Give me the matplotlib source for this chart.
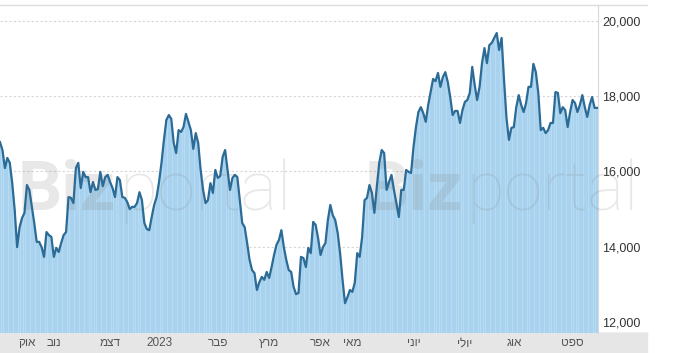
import matplotlib
matplotlib.use("Agg")
import matplotlib.pyplot as plt
from matplotlib.lines import Line2D
from matplotlib.patches import Rectangle

# daily index level, Oct 2022 -> Sep 2023
values = [
    16780, 16570, 16090, 16360, 16230, 15690, 14980, 13990, 14520, 14760,
    14900, 15640, 15510, 15060, 14630, 14130, 14130, 13990, 13730, 14390,
    14310, 14260, 13730, 13970, 13860, 14100, 14310, 14390, 15320, 15300,
    15160, 16090, 16230, 15560, 15990, 15850, 15850, 15450, 15720, 15510,
    15530, 15990, 15610, 15850, 15910, 15720, 15560, 15320, 15850, 15770,
    15320, 15300, 15190, 15000, 15060, 15060, 15160, 15450, 15240, 14630,
    14470, 14440, 14790, 15110, 15320, 15720, 16230, 16840, 17370, 17500,
    17400, 16760, 16490, 17100, 17050, 17180, 17530, 17320, 17100, 16600,
    17020, 16760, 16040, 15510, 15160, 15240, 15690, 15430, 16040, 15830,
    15880, 16390, 16570, 16040, 15510, 15830, 15910, 15850, 15240, 14630,
    14520, 14100, 13650, 13380, 13300, 12850, 13060, 13200, 13120, 13330,
    13170, 13460, 13780, 14050, 14180, 14440, 13990, 13650, 13380, 13330,
    12930, 12740, 12770, 13730, 13700, 13460, 13970, 13830, 14660, 14580,
    14230, 13780, 13990, 14100, 14710, 15110, 14840, 14710, 14370, 13830,
    13120, 12500, 12660, 12850, 12800, 13040, 13830, 13730, 14260, 15240,
    15300, 15640, 15430, 14900, 15590, 16230, 16570, 16490, 15510, 15720,
    15910, 15510, 15160, 14790, 15510, 15510, 16040, 15990, 15960, 16650,
    17180, 17580, 17710, 17550, 17320, 17770, 18110, 18460, 18400, 18620,
    18250, 18510, 18640, 18380, 17980, 17500, 17610, 17610, 17290, 17630,
    17850, 17900, 18090, 18780, 18300, 17900, 18250, 18880, 19280, 18880,
    19360, 19420, 19550, 19680, 19230, 19550, 18430, 17420, 16840, 17160,
    17180, 17710, 18030, 17770, 17580, 17820, 18250, 18250, 18860, 18640,
    18090, 17100, 17160, 17020, 17100, 17290, 17290, 18110, 18090, 17550,
    17710, 17630, 17180, 17580, 17900, 17820, 17580, 17770, 18030, 17710,
    17450, 17770, 17980, 17690, 17690,
]

# month labels (logical Hebrew order) and the trading-day index they sit on
month_labels = ["אוק", "נוב", "דצמ", "2023", "פבר", "מרץ", "אפר",
                "מאי", "יוני", "יולי", "אוג", "ספט"]
month_idx = [11, 22, 45, 65, 89, 110, 131, 144, 169, 190, 210, 234]

y_ticks = [12000, 14000, 16000, 18000, 20000]

FONT = ["Liberation Sans", "DejaVu Sans"]
plt.rcParams["font.family"] = FONT

W, H = 681, 353
fig = plt.figure(figsize=(W / 100, H / 100), dpi=100)

# bottom band and top border (drawn under the axes)
fig.patches.append(Rectangle((0, 0), 647 / W, 20 / H, transform=fig.transFigure,
                             color="#e6e6e6", zorder=0))
fig.lines.append(Line2D([0, 647 / W], [20 / H, 20 / H], transform=fig.transFigure,
                        color="#c4c4c4", lw=1, zorder=0))
fig.lines.append(Line2D([0, 647 / W], [(H - 5) / H, (H - 5) / H],
                        transform=fig.transFigure, color="#dcdcdc", lw=1, zorder=0))

ax = fig.add_axes([0, 20 / H, 598 / W, 328 / H])
ax.set_zorder(2)
ax.patch.set_alpha(0)

x = list(range(len(values)))
ax.fill_between(x, values, 0, color="#b6dbf3", lw=0, zorder=1)
ax.bar(x, values, width=0.75, color="#a8d2ee", lw=0, zorder=1.5)
ax.plot(x, values, color="#2b6b96", lw=1.6, zorder=4, solid_joinstyle="round")

ax.set_xlim(0, len(values) - 0.6)
ax.set_ylim(11707, 20425)

for v in y_ticks[1:]:
    ax.axhline(v, color="#d6d6d6", lw=0.8, ls=(0, (2, 2)), zorder=0.5)

ax.yaxis.tick_right()
ax.set_yticks(y_ticks, [f"{v:,}" for v in y_ticks])
ax.tick_params(axis="y", length=0, pad=3, labelsize=9, labelcolor="#333333")


def rtl(s):
    # matplotlib has no bidi support, flip Hebrew so it reads correctly
    return s if s.isdigit() else s[::-1]


ax.set_xticks(month_idx, [rtl(s) for s in month_labels])
ax.tick_params(axis="x", length=0, pad=3, labelsize=8.5, labelcolor="#555555")

for side in ("left", "bottom", "top"):
    ax.spines[side].set_visible(False)
ax.spines["right"].set_color("#d9d9d9")
ax.spines["right"].set_linewidth(0.8)

# watermark
for x0 in (18 / W, 365 / W):
    t = ax.text(x0 * W / 598, (H - 210 - 20) / 328, "Biz", transform=ax.transAxes,
                fontsize=50, fontweight="bold", family=["Roboto", "DejaVu Sans"],
                color="#8c8c8c", alpha=0.2, ha="left", va="baseline", zorder=3,
                clip_on=False)
    ax.annotate("portal", xy=(1, 0), xycoords=t, xytext=(2, 0),
                textcoords="offset points", fontsize=50, fontweight="light",
                family=["Roboto", "DejaVu Sans"], color="#8c8c8c", alpha=0.2,
                ha="left", va="bottom", annotation_clip=False, zorder=3)

fig.savefig("out.png", dpi=100)
